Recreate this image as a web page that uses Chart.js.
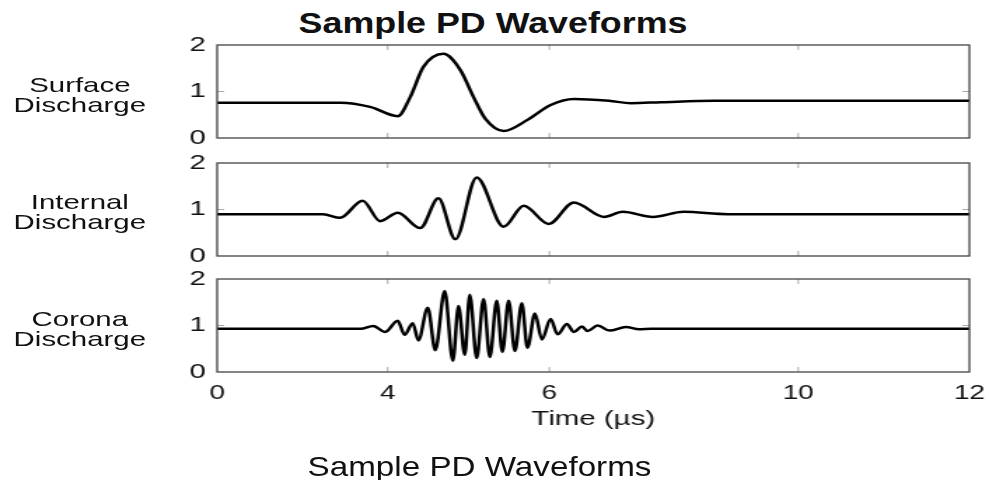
<!DOCTYPE html>
<html>
<head>
<meta charset="utf-8">
<title>Sample PD Waveforms</title>
<script src="https://cdn.jsdelivr.net/npm/chart.js@4"></script>
<style>
  html, body { margin: 0; padding: 0; background: #fff; overflow: hidden; }
  body { width: 989px; height: 480px; position: relative; font-family: "Liberation Sans", Arial, sans-serif; color: #111; }
  .title { position: absolute; left: 0; top: 9px; width: 986px; text-align: center;
           font-weight: bold; font-size: 29px; line-height: 29px; transform: scaleX(1.235); }
  .caption { position: absolute; left: 0; top: 453px; width: 959px; text-align: center;
             font-size: 28px; line-height: 28px; transform: scaleX(1.186); }
  /* the source figure is stretched sideways; draw narrow, then stretch */
  #stage { position: absolute; left: 0; top: 0; width: 706px; height: 480px;
           transform-origin: 0 0; transform: scaleX(1.40085); }
  #stage canvas { position: absolute; left: 0; top: 0; }
  .side { position: absolute; left: 0; width: 114px; text-align: center;
          font-size: 21px; line-height: 19.5px; }
</style>
</head>
<body>
<div class="title">Sample PD Waveforms</div>
<div id="stage">
  <div class="side" style="top:75px">Surface<br>Discharge</div>
  <div class="side" style="top:192px">Internal<br>Discharge</div>
  <div class="side" style="top:309px">Corona<br>Discharge</div>
  <canvas id="surface" width="706" height="480"></canvas>
  <canvas id="internal" width="706" height="480"></canvas>
  <canvas id="corona" width="706" height="480"></canvas>
</div>
<div class="caption">Sample PD Waveforms</div>

<script>
"use strict";

// x axis: tick positions along the drawn axis and the labels printed under them
const TICK_POS = [0, 2.72, 5.3, 9.27, 12];
const TICK_LABELS = ["0", "4", "6", "10", "12"];

const SURFACE_T = [0, 1.97, 2.44, 2.88, 3.08, 3.29, 3.61, 3.88, 4.09, 4.28, 4.57, 4.95, 5.32, 5.69, 6.25, 6.6, 7.08, 7.92, 12];
const SURFACE_V = [0.76, 0.76, 0.67, 0.47, 0.88, 1.53, 1.81, 1.46, 0.88, 0.41, 0.15, 0.39, 0.71, 0.84, 0.8, 0.75, 0.77, 0.8, 0.8];

const INTERNAL_T = [0, 1.69, 1.96, 2.32, 2.6, 2.88, 3.24, 3.53, 3.8, 4.14, 4.57, 4.89, 5.29, 5.69, 6.17, 6.47, 6.95, 7.44, 8.15, 12];
const INTERNAL_V = [0.9, 0.9, 0.82, 1.19, 0.75, 0.93, 0.6, 1.24, 0.36, 1.69, 0.63, 1.08, 0.69, 1.15, 0.84, 0.95, 0.84, 0.95, 0.9, 0.9];

const CORONA_T = [0, 2.29, 2.49, 2.68, 2.88, 2.99, 3.12, 3.21, 3.36, 3.48,
                  3.63, 3.76, 3.85, 3.95, 4.03, 4.14, 4.25, 4.35, 4.46, 4.55,
                  4.65, 4.75, 4.86, 4.95, 5.07, 5.18, 5.32, 5.43, 5.58, 5.69,
                  5.82, 5.91, 6.07, 6.26, 6.52, 6.73, 6.92, 12];
const CORONA_V = [0.93, 0.93, 0.99, 0.86, 1.1, 0.8, 1.05, 0.68, 1.38, 0.47,
                  1.74, 0.24, 1.42, 0.37, 1.66, 0.3, 1.57, 0.32, 1.53, 0.43,
                  1.53, 0.45, 1.48, 0.52, 1.26, 0.7, 1.14, 0.81, 1.03, 0.86,
                  0.98, 0.88, 1.0, 0.89, 0.97, 0.92, 0.93, 0.93];

const Y_TICKS = [0, 1, 2];

Chart.defaults.font.family = "'Liberation Sans', Arial, sans-serif";
Chart.defaults.color = "#111";

// Box round each panel plus the small inward tick marks.
const frame = {
  id: "frame",
  afterDraw(chart) {
    const { ctx, chartArea: { left, top, right, bottom }, scales: { x, y } } = chart;
    ctx.save();
    ctx.strokeStyle = "#aaa"; ctx.lineWidth = 1;
    ctx.beginPath();
    TICK_POS.slice(1, -1).forEach((v) => {
      const px = x.getPixelForValue(v);
      ctx.moveTo(px, top); ctx.lineTo(px, top + 5);
      ctx.moveTo(px, bottom); ctx.lineTo(px, bottom - 5);
    });
    const py = y.getPixelForValue(1);
    ctx.moveTo(left, py); ctx.lineTo(left + 5, py);
    ctx.moveTo(right, py); ctx.lineTo(right - 5, py);
    ctx.stroke();
    ctx.strokeStyle = "#444"; ctx.lineWidth = 1.3;
    ctx.strokeRect(left, top, right - left, bottom - top);
    ctx.restore();
  },
};

function points(ts, vs) {
  return ts.map((t, i) => ({ x: t, y: vs[i] }));
}

function panel(id, ts, vs, padTop, padBottom, showX) {
  new Chart(document.getElementById(id), {
    type: "line",
    data: {
      datasets: [{
        data: points(ts, vs),
        borderColor: "#000", borderWidth: 2.5,
        pointRadius: 0, cubicInterpolationMode: "monotone", fill: false,
      }],
    },
    plugins: [frame],
    options: {
      responsive: false, animation: false, events: [],
      layout: { autoPadding: false, padding: { left: 0, right: 14, top: padTop, bottom: padBottom } },
      plugins: { legend: { display: false }, tooltip: { enabled: false } },
      scales: {
        x: {
          type: "linear", min: 0, max: 12, display: showX,
          afterBuildTicks: (s) => { s.ticks = TICK_POS.map((v) => ({ value: v })); },
          // small padding keeps the right edge in place; tall line box sets the label drop
          ticks: { autoSkip: false, maxRotation: 0, padding: 2.5, color: "#111",
                   font: { size: 20, lineHeight: 1.9 }, callback: (v, i) => TICK_LABELS[i] },
          grid: { display: false, drawTicks: false }, border: { display: false },
          title: { display: true, text: "Time (µs)", color: "#111",
                   font: { size: 21 }, padding: { top: -8, bottom: 0 } },
        },
        y: {
          min: 0, max: 2,
          afterBuildTicks: (s) => { s.ticks = Y_TICKS.map((v) => ({ value: v })); },
          afterFit: (s) => { s.width = 155; },
          ticks: { padding: 8, color: "#111", font: { size: 21 } },
          grid: { display: false, drawTicks: false }, border: { display: false },
        },
      },
    },
  });
}

panel("surface", SURFACE_T, SURFACE_V, 45, 342, false);
panel("internal", INTERNAL_T, INTERNAL_V, 163, 224, false);
panel("corona", CORONA_T, CORONA_V, 279, 47.8, true);
</script>
</body>
</html>
